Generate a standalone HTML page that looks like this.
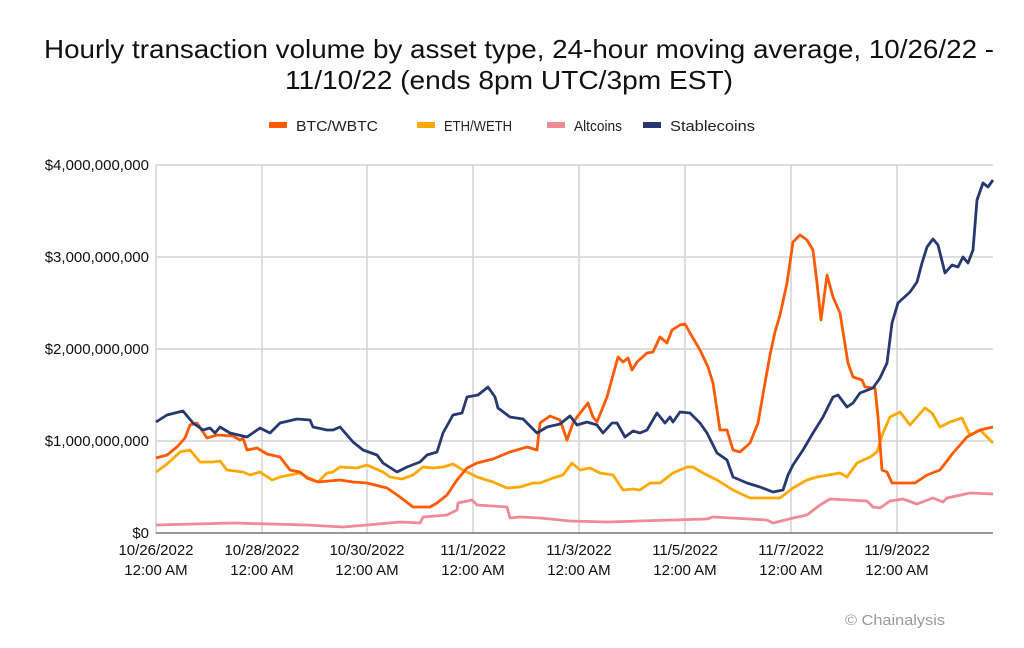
<!DOCTYPE html>
<html><head><meta charset="utf-8"><style>
html,body{margin:0;padding:0;background:#fff;}
svg{display:block;font-family:"Liberation Sans",sans-serif;}
</style></head><body>
<svg width="1024" height="648" viewBox="0 0 1024 648" xmlns="http://www.w3.org/2000/svg">
<rect width="1024" height="648" fill="#fff"/>
<text x="519" y="58" font-size="26" text-anchor="middle" fill="#111" textLength="950" lengthAdjust="spacingAndGlyphs">Hourly transaction volume by asset type, 24-hour moving average, 10/26/22 -</text>
<text x="509" y="89" font-size="26" text-anchor="middle" fill="#111" textLength="448" lengthAdjust="spacingAndGlyphs">11/10/22 (ends 8pm UTC/3pm EST)</text>
<g font-size="15" fill="#222">
<rect x="269" y="122" width="18" height="6" fill="#ff5a00"/><text x="296" y="131" textLength="82" lengthAdjust="spacingAndGlyphs">BTC/WBTC</text>
<rect x="417" y="122" width="18" height="6" fill="#ffa800"/><text x="444" y="131" textLength="68" lengthAdjust="spacingAndGlyphs">ETH/WETH</text>
<rect x="547" y="122" width="18" height="6" fill="#f08a96"/><text x="574" y="131" textLength="48" lengthAdjust="spacingAndGlyphs">Altcoins</text>
<rect x="643" y="122" width="18" height="6" fill="#283870"/><text x="670" y="131" textLength="85" lengthAdjust="spacingAndGlyphs">Stablecoins</text>
</g>
<g stroke="#d4d4d4" stroke-width="1.5">
<line x1="156" y1="165" x2="993" y2="165"/><line x1="156" y1="257" x2="993" y2="257"/><line x1="156" y1="349" x2="993" y2="349"/><line x1="156" y1="441" x2="993" y2="441"/>
<line x1="156" y1="165" x2="156" y2="533"/><line x1="262" y1="165" x2="262" y2="533"/><line x1="367" y1="165" x2="367" y2="533"/><line x1="473" y1="165" x2="473" y2="533"/><line x1="579" y1="165" x2="579" y2="533"/><line x1="685" y1="165" x2="685" y2="533"/><line x1="791" y1="165" x2="791" y2="533"/><line x1="897" y1="165" x2="897" y2="533"/>
</g>
<line x1="156" y1="533" x2="993" y2="533" stroke="#777" stroke-width="1.5"/>
<g font-size="15" fill="#111" text-anchor="end">
<text x="149" y="170">$4,000,000,000</text><text x="149" y="262">$3,000,000,000</text><text x="149" y="354">$2,000,000,000</text><text x="149" y="446">$1,000,000,000</text><text x="149" y="538">$0</text>
</g>
<g font-size="15" fill="#111" text-anchor="middle">
<text x="156" y="555">10/26/2022</text><text x="156" y="575">12:00 AM</text>
<text x="262" y="555">10/28/2022</text><text x="262" y="575">12:00 AM</text>
<text x="367" y="555">10/30/2022</text><text x="367" y="575">12:00 AM</text>
<text x="473" y="555">11/1/2022</text><text x="473" y="575">12:00 AM</text>
<text x="579" y="555">11/3/2022</text><text x="579" y="575">12:00 AM</text>
<text x="685" y="555">11/5/2022</text><text x="685" y="575">12:00 AM</text>
<text x="791" y="555">11/7/2022</text><text x="791" y="575">12:00 AM</text>
<text x="897" y="555">11/9/2022</text><text x="897" y="575">12:00 AM</text>
</g>
<text x="895" y="625" font-size="15" fill="#999" text-anchor="middle" textLength="100" lengthAdjust="spacingAndGlyphs">© Chainalysis</text>
<g fill="none" stroke-width="2.8" stroke-linejoin="round">
<polyline stroke="#f08a96" points="156,525 233,523 307,525 343,527 367,525 400,522 420,523 423,517 447,515 457,510 458,503 472,500 477,505 507,507 510,518 520,517 540,518 570,521 607,522 707,519 713,517 767,520 773,523 793,518 807,515 820,505 830,499 867,501 873,507 880,508 890,501 903,499 917,504 933,498 943,502 947,498 970,493 993,494"/>
<polyline stroke="#ffa800" points="156,472 167,464 180,452 190,450 200,462 213,462 220,461 227,470 243,472 250,475 260,472 272,480 280,477 290,475 300,473 307,477 318,482 327,473 333,472 340,467 357,468 367,465 383,472 390,477 402,479 413,475 423,467 433,468 443,467 453,464 463,470 477,477 493,482 507,488 520,487 533,483 540,483 553,478 563,475 572,463 580,470 590,468 600,473 613,475 623,490 633,489 640,490 650,483 660,483 673,473 687,467 693,467 703,473 717,480 733,490 750,498 780,498 793,488 807,480 817,477 840,473 847,477 857,463 870,457 877,452 883,433 890,417 900,412 910,425 917,417 925,408 932,413 940,427 950,422 962,418 970,435 980,430 993,443"/>
<polyline stroke="#ff5a00" points="156,458 167,455 177,447 185,438 190,425 197,423 207,438 217,435 233,436 240,440 243,438 247,450 257,448 267,454 280,457 290,470 300,472 307,478 318,482 340,480 353,482 367,483 387,488 400,497 413,507 430,507 437,503 447,495 457,480 467,468 477,463 493,459 510,452 527,447 537,450 540,423 550,416 560,420 567,440 573,423 577,417 588,403 593,417 597,422 607,397 618,357 623,362 628,358 632,370 637,362 647,353 653,352 660,337 667,343 672,330 680,325 685,324 690,333 700,350 708,367 713,383 720,430 727,430 733,450 740,452 750,443 758,423 765,383 770,355 775,332 780,315 787,283 793,242 800,235 807,240 813,250 817,283 821,320 827,275 833,297 840,313 848,363 853,377 862,380 865,387 875,388 878,417 882,470 887,472 892,483 915,483 927,475 940,470 953,453 967,437 980,430 993,427"/>
<polyline stroke="#283870" points="156,422 167,415 183,411 193,423 203,430 210,428 215,433 220,427 230,433 247,437 260,428 270,433 280,423 297,419 310,420 313,427 327,430 333,430 340,427 353,442 363,450 377,455 383,463 397,472 407,467 420,462 427,455 437,452 443,433 453,415 462,413 467,397 478,395 488,387 495,397 498,408 510,417 523,419 537,433 547,427 560,424 570,416 577,425 587,422 597,425 603,433 612,423 617,423 625,437 633,431 640,433 647,430 657,413 665,423 670,417 673,422 680,412 690,413 700,423 707,433 717,453 727,460 733,477 740,480 747,483 760,487 773,492 783,490 788,475 793,465 803,450 813,433 823,417 833,397 838,395 847,407 853,403 860,393 873,388 880,378 887,363 892,323 898,303 910,292 917,282 922,263 927,247 933,239 938,245 945,273 952,265 958,267 963,257 968,263 973,250 977,200 983,183 988,187 993,180"/>
</g>
</svg>
</body></html>
